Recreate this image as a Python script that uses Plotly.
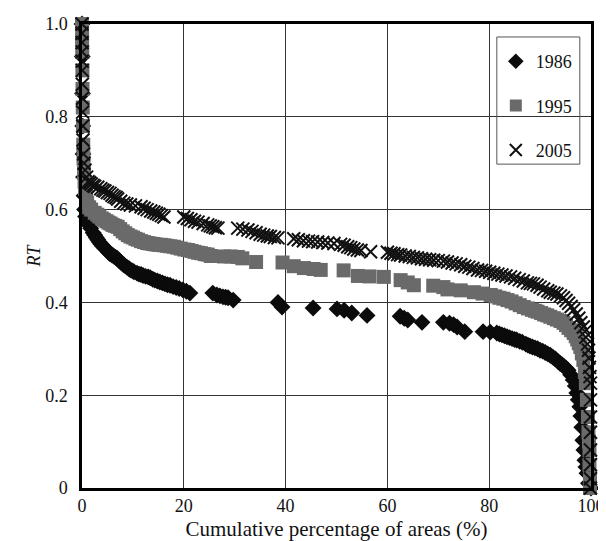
import plotly.graph_objects as go

# ---- data ----
x_1986 = [0.0, 0.05, 0.1, 0.15, 0.2, 0.3, 0.4, 0.5, 0.7, 1.0, 1.3, 1.7, 2.2, 2.5, 2.8, 3.1, 3.4, 3.7, 4.0, 4.4,
          4.9, 5.2, 5.5, 5.9, 6.2, 6.6, 6.9, 7.3, 7.6, 8.0, 8.3, 8.8, 9.2, 9.5, 9.9, 10.2, 10.8, 11.2, 11.6,
          12.0, 12.5, 13.0, 13.4, 13.9, 14.3, 14.8, 15.3, 15.8, 16.3, 16.8, 17.3, 17.9, 18.5, 19.1, 19.8, 20.5,
          21.2, 25.7, 26.5, 27.1, 27.7, 28.2, 28.7, 29.7, 38.5, 39.3, 45.4, 50.1, 51.5, 53.0, 56.0, 62.5, 63.3,
          64.0, 66.8, 71.0, 72.2, 73.0, 73.7, 75.2, 78.8, 80.2, 81.5, 82.0, 82.5, 83.0, 83.5, 84.0, 84.5, 85.0,
          85.4, 86.0, 86.5, 87.2, 87.6, 88.0, 88.5, 89.0, 89.5, 90.0, 90.5, 91.0, 91.5, 92.0, 92.5, 93.0, 93.5,
          93.9, 94.3, 94.7, 95.1, 95.5, 96.0, 96.5, 96.9, 97.2, 97.5, 97.8, 98.0, 98.2, 98.4, 98.6, 98.8, 99.0,
          99.2, 99.5, 100.0]
y_1986 = [1.0, 0.93, 0.85, 0.78, 0.72, 0.67, 0.63, 0.60, 0.585, 0.575, 0.568, 0.56, 0.55, 0.545, 0.54, 0.535,
          0.53, 0.526, 0.522, 0.518, 0.513, 0.508, 0.505, 0.502, 0.5, 0.497, 0.495, 0.49, 0.487, 0.483, 0.48,
          0.476, 0.473, 0.47, 0.468, 0.466, 0.463, 0.461, 0.46, 0.458, 0.456, 0.455, 0.453, 0.45, 0.448, 0.446,
          0.444, 0.442, 0.44, 0.438, 0.437, 0.434, 0.432, 0.43, 0.427, 0.424, 0.42, 0.42, 0.416, 0.414, 0.412,
          0.411, 0.41, 0.405, 0.40, 0.39, 0.388, 0.386, 0.383, 0.377, 0.372, 0.37, 0.366, 0.362, 0.357, 0.357,
          0.355, 0.352, 0.347, 0.337, 0.337, 0.336, 0.334, 0.332, 0.33, 0.328, 0.326, 0.324, 0.322, 0.32, 0.319,
          0.316, 0.314, 0.31, 0.308, 0.306, 0.304, 0.302, 0.3, 0.297, 0.295, 0.292, 0.289, 0.286, 0.282, 0.278,
          0.273, 0.269, 0.266, 0.262, 0.258, 0.254, 0.244, 0.233, 0.22, 0.205, 0.19, 0.175, 0.155, 0.131, 0.103,
          0.082, 0.06, 0.045, 0.032, 0.01, 0.0]

x_1995 = [0.0, 0.02, 0.05, 0.08, 0.1, 0.15, 0.2, 0.25, 0.3, 0.4, 0.5, 0.6, 0.8, 1.0, 1.4, 1.8, 2.5, 3.0, 3.4,
          3.9, 4.3, 4.8, 5.2, 5.6, 6.0, 6.5, 7.0, 7.5, 8.0, 8.5, 9.0, 9.5, 10.0, 10.5, 11.0, 11.6, 12.2, 12.8,
          13.3, 13.9, 14.4, 15.0, 15.5, 16.1, 16.7, 17.3, 18.0, 18.7, 19.4, 20.1, 20.8, 21.5, 22.1, 22.8, 23.4,
          24.1, 24.7, 25.3, 27.9, 29.2, 30.6, 31.5, 34.2, 39.4, 41.6, 43.6, 45.5, 46.9, 51.4, 54.2, 56.5, 59.3,
          62.6, 64.0, 65.2, 69.0, 71.0, 71.8, 74.4, 77.0, 78.7, 80.3, 81.2, 82.0, 82.8, 83.6, 84.4, 85.2, 86.0,
          86.8, 87.6, 88.4, 89.0, 89.5, 90.2, 90.8, 91.4, 92.0, 92.7, 93.3, 94.0, 94.6, 95.1, 95.6, 96.1, 96.6,
          97.0, 97.3, 97.6, 97.9, 98.2, 98.5, 98.8, 99.0, 99.2, 99.4, 99.5, 99.6, 99.7, 99.7, 99.8, 99.8]
y_1995 = [1.0, 0.97, 0.94, 0.9, 0.86, 0.82, 0.78, 0.74, 0.71, 0.68, 0.66, 0.645, 0.63, 0.615, 0.605, 0.6,
          0.593, 0.589, 0.585, 0.581, 0.578, 0.575, 0.572, 0.57, 0.567, 0.565, 0.563, 0.558, 0.553, 0.549, 0.545,
          0.542, 0.54, 0.537, 0.535, 0.532, 0.53, 0.528, 0.527, 0.526, 0.525, 0.524, 0.524, 0.523, 0.522, 0.521,
          0.52, 0.518, 0.516, 0.514, 0.513, 0.511, 0.509, 0.507, 0.506, 0.504, 0.503, 0.5, 0.499, 0.499, 0.498,
          0.495, 0.487, 0.486, 0.478, 0.474, 0.472, 0.47, 0.469, 0.457, 0.456, 0.455, 0.448, 0.443, 0.437, 0.436,
          0.433, 0.428, 0.426, 0.422, 0.419, 0.416, 0.413, 0.41, 0.408, 0.405, 0.402, 0.398, 0.394, 0.39, 0.387,
          0.384, 0.382, 0.38, 0.377, 0.374, 0.372, 0.369, 0.366, 0.363, 0.36, 0.356, 0.351, 0.345, 0.34, 0.334,
          0.327, 0.32, 0.312, 0.304, 0.29, 0.276, 0.25, 0.226, 0.19, 0.153, 0.12, 0.1, 0.082, 0.05, 0.02, 0.0]

x_2005 = [0.0, 0.0, 0.02, 0.03, 0.04, 0.05, 0.07, 0.1, 0.12, 0.15, 0.2, 0.3, 0.4, 0.6, 0.9, 1.2, 1.5, 1.8,
          2.2, 2.5, 3.1, 3.7, 4.1, 4.5, 5.0, 5.5, 5.9, 6.3, 6.7, 7.0, 7.6, 8.2, 8.8, 9.5, 10.5, 11.6, 12.2,
          12.8, 13.5, 14.1, 14.6, 15.1, 15.6, 16.1, 20.0, 20.7, 21.4, 22.1, 22.8, 23.8, 24.7, 25.2, 25.7, 26.2,
          26.7, 30.6, 31.6, 32.6, 33.4, 34.2, 35.0, 35.7, 36.4, 37.0, 37.8, 38.5, 41.6, 42.5, 43.5, 44.5, 45.3,
          46.3, 47.3, 48.3, 49.5, 50.8, 51.5, 52.2, 52.8, 53.4, 54.1, 54.8, 56.7, 60.0, 60.7, 61.3, 62.0, 62.6,
          63.5, 64.3, 65.1, 65.9, 66.7, 67.5, 68.3, 69.1, 70.0, 71.0, 71.8, 72.7, 73.5, 74.4, 75.2, 76.0, 76.8,
          77.7, 78.5, 79.3, 80.1, 80.9, 81.7, 82.5, 83.3, 84.2, 85.0, 85.9, 86.7, 87.5, 88.1, 88.7, 89.4, 90.0,
          90.7, 91.5, 92.0, 92.7, 93.3, 94.0, 94.6, 95.1, 95.6, 96.1, 96.6, 97.1, 97.6, 98.0, 98.5, 98.8, 99.0,
          99.3, 99.5, 99.6, 99.7, 99.8, 99.9, 99.9, 99.9, 99.9, 99.9, 99.9, 99.9, 99.9]
y_2005 = [1.0, 0.98, 0.96, 0.94, 0.92, 0.9, 0.87, 0.84, 0.81, 0.78, 0.75, 0.72, 0.70, 0.685, 0.67, 0.66,
          0.658, 0.655, 0.652, 0.65, 0.648, 0.645, 0.642, 0.64, 0.637, 0.635, 0.631, 0.628, 0.626, 0.623, 0.618,
          0.614, 0.612, 0.61, 0.608, 0.606, 0.603, 0.6, 0.597, 0.595, 0.592, 0.59, 0.587, 0.584, 0.584, 0.581,
          0.578, 0.575, 0.573, 0.57, 0.567, 0.565, 0.563, 0.561, 0.56, 0.56, 0.558, 0.556, 0.553, 0.55, 0.547,
          0.545, 0.543, 0.542, 0.54, 0.539, 0.537, 0.535, 0.533, 0.532, 0.531, 0.53, 0.529, 0.528, 0.527, 0.525,
          0.523, 0.52, 0.518, 0.515, 0.513, 0.512, 0.509, 0.508, 0.506, 0.505, 0.503, 0.502, 0.5, 0.499, 0.497,
          0.496, 0.494, 0.493, 0.492, 0.491, 0.49, 0.489, 0.487, 0.485, 0.483, 0.481, 0.478, 0.476, 0.473, 0.47,
          0.469, 0.467, 0.465, 0.463, 0.461, 0.459, 0.457, 0.455, 0.452, 0.449, 0.446, 0.442, 0.441, 0.44, 0.437,
          0.433, 0.429, 0.425, 0.422, 0.42, 0.418, 0.414, 0.41, 0.404, 0.398, 0.391, 0.384, 0.375, 0.366, 0.356,
          0.347, 0.337, 0.325, 0.31, 0.297, 0.28, 0.26, 0.24, 0.226, 0.19, 0.153, 0.12, 0.082, 0.05, 0.02, 0.0]

x_ticks = [0, 20, 40, 60, 80, 100]
y_ticks = [0, 0.2, 0.4, 0.6, 0.8, 1.0]
y_tick_text = ["0", "0.2", "0.4", "0.6", "0.8", "1.0"]

FONT = "Liberation Serif"

fig = go.Figure()
fig.add_trace(go.Scatter(x=x_1986, y=y_1986, mode="markers", name="1986", legendgroup="a",
                         cliponaxis=False,
                         marker=dict(symbol="diamond", size=13, color="#0b0b0b", line=dict(width=0))))
fig.add_trace(go.Scatter(x=x_1995, y=y_1995, mode="markers", name="1995", legendgroup="b",
                         cliponaxis=False,
                         marker=dict(symbol="square", size=14, color="#6a6a6a", line=dict(width=0))))
fig.add_trace(go.Scatter(x=x_2005, y=y_2005, mode="markers", name="2005", legendgroup="c",
                         cliponaxis=False,
                         marker=dict(symbol="x-thin", size=13, color="#111111",
                                     line=dict(width=2, color="#111111"))))

# the page places the figure 8px from the top-left corner; margins compensate for that
fig.update_layout(
    width=598, height=533,
    margin=dict(l=74, r=15, t=16, b=53, autoexpand=False),
    paper_bgcolor="white", plot_bgcolor="white",
    font=dict(family=FONT, size=18, color="#111"),
    showlegend=True,
    legend=dict(x=0.813, y=0.959, xanchor="left", yanchor="top",
                borderwidth=0, bgcolor="rgba(0,0,0,0)",
                font=dict(family=FONT, size=18, color="#111"),
                tracegroupgap=18, itemsizing="constant"),
    shapes=[dict(type="rect", xref="paper", yref="paper", x0=0.815, x1=0.978, y0=0.698, y1=0.972,
                 line=dict(color="#555", width=1), fillcolor="rgba(0,0,0,0)", layer="above")],
    xaxis=dict(range=[0, 100], tickvals=x_ticks, showgrid=True, gridcolor="#333", gridwidth=1,
               showline=True, linecolor="#000", linewidth=2.5, mirror=True, zeroline=False,
               ticks="", tickfont=dict(family=FONT, size=18), automargin=False,
               title=dict(text="Cumulative percentage of areas (%)", font=dict(family=FONT, size=21),
                          standoff=7)),
    yaxis=dict(range=[0, 1.0], tickvals=y_ticks, ticktext=y_tick_text, showgrid=True, gridcolor="#333",
               gridwidth=1, showline=True, linecolor="#000", linewidth=2.5, mirror=True, zeroline=False,
               ticks="", tickfont=dict(family=FONT, size=18), automargin=False, ticklabelstandoff=8,
               title=dict(text="<i>RT</i>", font=dict(family=FONT, size=18), standoff=0)),
)

fig.write_html("out.html")
